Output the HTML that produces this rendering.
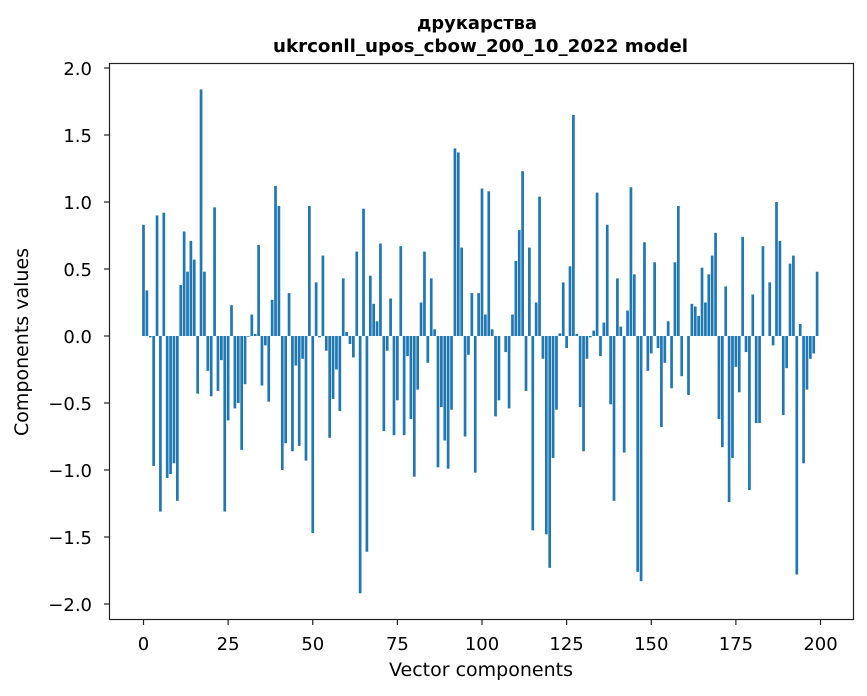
<!DOCTYPE html>
<html><head><meta charset="utf-8"><style>body{margin:0;background:#fff}svg{display:block}text{font-family:"DejaVu Sans","Liberation Sans",sans-serif;fill:#000}</style></head>
<body>
<svg id="s" width="867" height="696" xmlns="http://www.w3.org/2000/svg">
<rect width="867" height="696" fill="#fff"/>
<g id="bars" fill="#1f77b4"></g>
<rect x="109.5" y="63.5" width="744" height="556" fill="none" stroke="#222" stroke-width="1.2"/>
<g id="ticks" stroke="#222" stroke-width="1.2"></g>
<g font-size="18" text-anchor="end">
<text x="92" y="75">2.0</text><text x="92" y="142">1.5</text><text x="92" y="209">1.0</text><text x="92" y="276">0.5</text><text x="92" y="343">0.0</text><text x="92" y="410">−0.5</text><text x="92" y="477">−1.0</text><text x="92" y="544">−1.5</text><text x="92" y="611">−2.0</text>
</g>
<g font-size="18" text-anchor="middle">
<text x="143.5" y="650">0</text><text x="228.1" y="650">25</text><text x="312.8" y="650">50</text><text x="397.4" y="650">75</text><text x="482" y="650">100</text><text x="566.6" y="650">125</text><text x="651.3" y="650">150</text><text x="735.9" y="650">175</text><text x="820.5" y="650">200</text>
<text x="481" y="676" font-size="19">Vector components</text>
</g>
<g text-anchor="middle" font-weight="bold" font-size="18" style="font-family:'Liberation Sans',sans-serif">
<text x="477" y="29" textLength="120" lengthAdjust="spacingAndGlyphs">друкарства</text>
<text x="480.5" y="52" textLength="415" lengthAdjust="spacingAndGlyphs">ukrconll_upos_cbow_200_10_2022 model</text>
</g>
<text font-size="19" text-anchor="middle" transform="translate(28,342) rotate(-90)">Components values</text>
</svg>
<script>
var v=[0.83,0.34,-0.01,-0.97,0.90,-1.31,0.92,-1.06,-1.03,-0.95,-1.23,0.38,0.78,0.48,0.71,0.57,-0.43,1.84,0.48,-0.26,-0.45,0.96,-0.41,-0.18,-1.31,-0.63,0.23,-0.54,-0.50,-0.85,-0.36,-0.005,0.16,0.015,0.68,-0.37,-0.07,-0.49,0.27,1.12,0.97,-1.00,-0.80,0.32,-0.86,-0.22,-0.82,-0.17,-0.93,0.97,
-1.47,0.40,-0.01,0.60,-0.11,-0.76,-0.47,-0.25,-0.56,0.43,0.03,-0.06,-0.16,0.63,-1.92,0.95,-1.61,0.45,0.24,0.11,0.69,-0.71,-0.11,0.28,-0.74,-0.48,0.67,-0.74,-0.15,-0.62,-1.05,-0.40,0.25,0.63,-0.20,0.43,0.05,-0.98,-0.53,-0.78,-0.99,-0.55,1.40,1.37,0.66,-0.75,-0.14,0.32,-1.02,0.32,
1.10,0.16,1.08,0.05,-0.60,-0.48,0,-0.12,-0.54,0.16,0.56,0.79,1.23,-0.41,0.66,-1.45,0.25,1.04,-0.17,-1.48,-1.73,-0.91,-0.55,0.02,0.40,-0.09,0.52,1.65,0.015,-0.53,-0.86,-0.17,-0.01,0.04,1.07,-0.15,0.10,0.83,-0.51,-1.23,0.43,0.07,-0.87,0.19,1.11,0.46,-1.76,-1.83,0.70,-0.26,
-0.13,0.55,-0.09,-0.68,-0.20,0.11,-0.39,0.55,0.97,-0.30,0,-0.44,0.24,0.22,0.15,0.51,0.25,0.46,0.60,0.77,-0.62,-0.83,0.37,-1.24,-0.91,-0.23,-0.42,0.74,-0.12,-1.15,0.31,-0.65,-0.65,0.67,0,0.40,-0.07,1.00,0.71,-0.59,-0.24,0.54,0.60,-1.78,0.09,-0.95,-0.40,-0.17,-0.13,0.48];
var NS="http://www.w3.org/2000/svg",g=document.getElementById("bars"),t=document.getElementById("ticks");
for(var i=0;i<v.length;i++){var x=143.5+3.385*i-1.35,y0=336,y1=336-v[i]*134;var r=document.createElementNS(NS,"rect");r.setAttribute("x",x);r.setAttribute("width",2.7);r.setAttribute("y",Math.min(y0,y1));r.setAttribute("height",Math.abs(y1-y0));g.appendChild(r);}
function ln(a,b,c,d){var l=document.createElementNS(NS,"line");l.setAttribute("x1",a);l.setAttribute("y1",b);l.setAttribute("x2",c);l.setAttribute("y2",d);t.appendChild(l);}
for(var k=0;k<9;k++){var yy=68+67*k;ln(104,yy,109.5,yy);var xx=143.5+84.625*k;ln(xx,619.5,xx,625);}
</script>
</body></html>
